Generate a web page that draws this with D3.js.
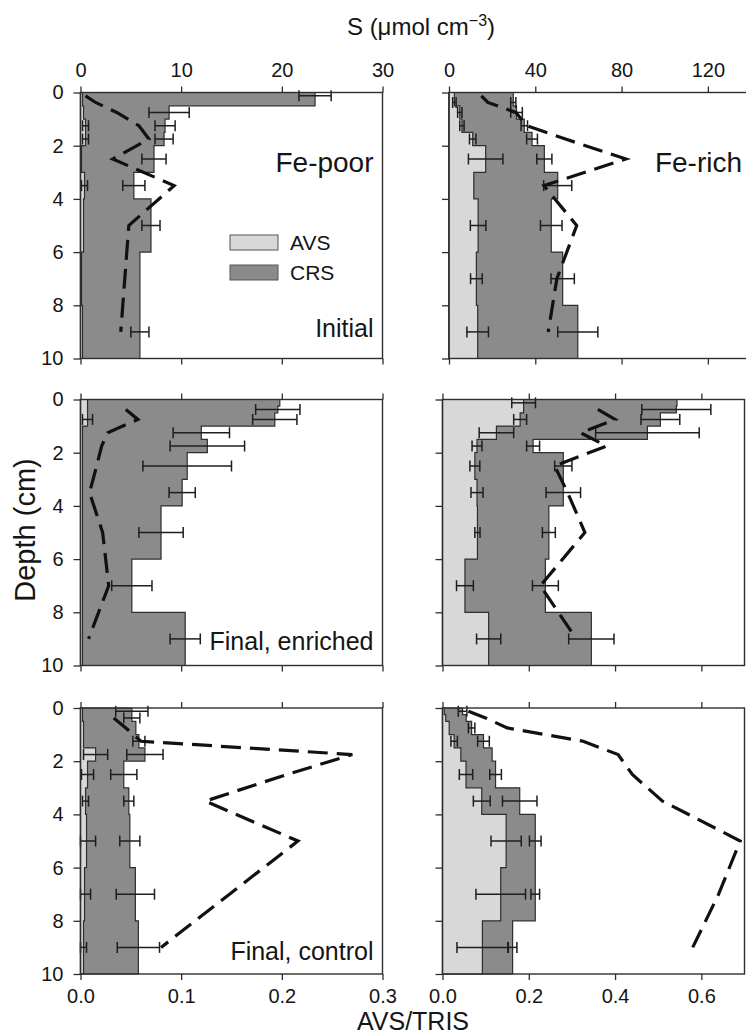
<!DOCTYPE html>
<html>
<head>
<meta charset="utf-8">
<script src="https://cdn.jsdelivr.net/npm/d3@7"></script>
<style>
  body { margin: 0; background: #fff; }
  svg { display: block; font-family: "Liberation Sans", Arial, sans-serif; }
</style>
</head>
<body>
<div id="chart"></div>
<script>
// depth layers (cm): top of each layer, the last one ends at DEPTH_MAX
const DEPTH_TOPS = [0, 0.25, 0.5, 1, 1.5, 2, 3, 4, 6, 8]
const DEPTH_MAX = 10
const DEPTH_TICKS = [0, 2, 4, 6, 8, 10]
const S_TICKS_POOR = [0, 10, 20, 30]
const S_TICKS_RICH = [0, 40, 80, 120]
const RATIO_TICKS_POOR = [0, 0.1, 0.2, 0.3]
const RATIO_TICKS_RICH = [0, 0.2, 0.4, 0.6]

// Fe-poor, initial (S in umol cm-3)
const poorInitialAvs = [0.2, 0.2, 0.3, 0.5, 0.5, 0.1, 0.4, 0.3, 0.1, 0.2]
const poorInitialTris = [23.3, 23.3, 8.8, 8.4, 8.3, 7.3, 5.3, 7.0, 5.9, 5.9]
const poorInitialAvsErr = [null, null, null, 0.3, 0.3, null, 0.3, null, null, null]
const poorInitialTrisErr = [1.6, null, 2.0, 1.0, 0.9, 1.2, 1.1, 0.9, null, 0.9]
const poorInitialRatio = [0.005, 0.015, 0.036, 0.058, 0.068, 0.032, 0.093, 0.048, 0.044, 0.040]

// Fe-rich, initial
const richInitialAvs = [2.5, 2.5, 5.0, 6.0, 11.0, 17.0, 11.5, 13.5, 12.7, 13.3]
const richInitialTris = [29.8, 29.8, 31.3, 34.9, 38.5, 44.2, 50.4, 47.4, 52.7, 59.7]
const richInitialAvsErr = [null, 0.8, 1.0, 1.0, 1.5, 8.0, null, 3.6, 2.7, 5.0]
const richInitialTrisErr = [null, 1.2, 2.7, 1.5, 2.5, 3.5, 6.5, 5.0, 5.4, 9.3]
const richInitialRatio = [0.075, 0.09, 0.155, 0.18, 0.27, 0.41, 0.22, 0.296, 0.25, 0.23]

// Fe-poor, final, enriched
const poorEnrichedAvs = [0.7, 0.7, 0.7, 0.2, 0.2, 0.2, 0.2, 0.2, 0.2, 0.2]
const poorEnrichedTris = [19.8, 19.6, 19.3, 12.0, 12.6, 10.6, 10.1, 8.0, 5.1, 10.4]
const poorEnrichedAvsErr = [null, null, 0.5, null, null, null, null, null, null, null]
const poorEnrichedTrisErr = [null, 2.2, 2.2, 2.8, 3.7, 4.4, 1.3, 2.2, 2.0, 1.5]
const poorEnrichedRatio = [null, 0.045, 0.057, 0.027, 0.021, 0.016, 0.009, 0.022, 0.028, 0.008]

// Fe-rich, final, enriched
const richEnrichedAvs = [37.6, 37.6, 36.0, 25.0, 16.0, 15.0, 16.0, 16.2, 10.4, 21.4]
const richEnrichedTris = [108.7, 108.4, 101.0, 95.0, 42.0, 56.0, 56.0, 49.3, 47.7, 69.0]
const richEnrichedAvsErr = [5.5, null, 3.0, 8.0, 2.3, 2.3, 2.8, 1.2, 3.9, 5.6]
const richEnrichedTrisErr = [null, 16.0, 9.0, 24.0, 3.0, 4.0, 8.0, 3.0, 6.0, 10.5]
const richEnrichedRatio = [null, 0.36, 0.40, 0.32, 0.38, 0.26, 0.29, 0.33, 0.227, 0.31]

// Fe-poor, final, control
const poorControlAvs = [0.2, 0.2, 0.3, 0.3, 1.5, 0.7, 0.5, 0.6, 0.4, 0.3]
const poorControlTris = [5.1, 5.1, 5.5, 5.8, 6.4, 4.3, 4.8, 4.9, 5.45, 5.75]
const poorControlAvsErr = [null, null, null, null, 1.2, 0.6, 0.3, 0.9, 0.6, 0.3]
const poorControlTrisErr = [1.6, 0.8, null, 0.6, 1.8, 1.3, 0.5, 1.0, 1.9, 2.1]
const poorControlRatio = [null, 0.033, 0.045, 0.060, 0.27, 0.205, 0.124, 0.216, 0.148, 0.08]

// Fe-rich, final, control
const richControlAvs = [0.8, 1.5, 3.1, 5.4, 8.5, 10.9, 18.2, 29.5, 27.0, 18.5]
const richControlTris = [9.3, 11.0, 13.5, 19.0, 23.0, 24.6, 35.8, 43.0, 43.0, 32.5]
const richControlAvsErr = [null, null, null, 1.5, null, 3.1, 3.9, 7.0, 11.5, 11.8]
const richControlTrisErr = [2.0, null, 1.5, 2.7, null, 2.7, 8.0, 2.7, 2.0, 2.0]
const richControlRatio = [0.06, 0.10, 0.15, 0.326, 0.407, 0.44, 0.51, 0.69, 0.64, 0.58]

const panels = [
  { row: 0, site: 'poor', name: 'Fe-poor', stage: 'Initial', avs: poorInitialAvs, tris: poorInitialTris, avsErr: poorInitialAvsErr, trisErr: poorInitialTrisErr, ratio: poorInitialRatio },
  { row: 0, site: 'rich', name: 'Fe-rich', stage: null, avs: richInitialAvs, tris: richInitialTris, avsErr: richInitialAvsErr, trisErr: richInitialTrisErr, ratio: richInitialRatio },
  { row: 1, site: 'poor', name: null, stage: 'Final, enriched', avs: poorEnrichedAvs, tris: poorEnrichedTris, avsErr: poorEnrichedAvsErr, trisErr: poorEnrichedTrisErr, ratio: poorEnrichedRatio },
  { row: 1, site: 'rich', name: null, stage: null, avs: richEnrichedAvs, tris: richEnrichedTris, avsErr: richEnrichedAvsErr, trisErr: richEnrichedTrisErr, ratio: richEnrichedRatio },
  { row: 2, site: 'poor', name: null, stage: 'Final, control', avs: poorControlAvs, tris: poorControlTris, avsErr: poorControlAvsErr, trisErr: poorControlTrisErr, ratio: poorControlRatio },
  { row: 2, site: 'rich', name: null, stage: null, avs: richControlAvs, tris: richControlTris, avsErr: richControlAvsErr, trisErr: richControlTrisErr, ratio: richControlRatio }
]

const WIDTH = 746
const HEIGHT = 1036
const PANEL_W = 302
const PANEL_H = 266
const ROW_TOP = [92.5, 399.5, 708]
const STAGE_Y = [244.5, 250.5, 252]
const AXIS_COLOR = '#2e2e2e'
const TEXT_COLOR = '#151515'

const svg = d3.select('#chart')
  .append('svg')
  .attr('width', WIDTH)
  .attr('height', HEIGHT)

const layerMid = i => (DEPTH_TOPS[i] + (i + 1 < DEPTH_TOPS.length ? DEPTH_TOPS[i + 1] : DEPTH_MAX)) / 2

panels.forEach(p => {
  // the top right panel sits a little to the right in the original figure
  const left = p.site === 'poor' ? 80.5 : (p.row === 0 ? 449 : 442.5)
  const g = svg.append('g').attr('transform', `translate(${left},${ROW_TOP[p.row]})`)

  const x = d3.scaleLinear().domain([0, p.site === 'poor' ? 30 : 140]).range([0, PANEL_W])
  const xr = d3.scaleLinear().domain([0, p.site === 'poor' ? 0.3 : 0.7]).range([0, PANEL_W])
  const y = d3.scaleLinear().domain([0, DEPTH_MAX]).range([0, PANEL_H])

  const profile = values => DEPTH_TOPS.map((d, i) => ({ d, v: values[i] }))
    .concat([{ d: DEPTH_MAX, v: values[values.length - 1] }])
  const area = d3.area()
    .curve(d3.curveStepBefore)
    .y(d => y(d.d))
    .x0(x(0))
    .x1(d => x(d.v))

  g.append('path')
    .attr('d', area(profile(p.tris)))
    .attr('fill', '#8b8b8b')
    .attr('stroke', AXIS_COLOR)
    .attr('stroke-width', 1.2)
  g.append('path')
    .attr('d', area(profile(p.avs)))
    .attr('fill', '#d8d8d8')
    .attr('stroke', AXIS_COLOR)
    .attr('stroke-width', 1.2)

  // error bars for AVS and for the total
  const bars = []
  p.avs.forEach((v, i) => { if (p.avsErr[i] != null) bars.push({ v, e: p.avsErr[i], d: layerMid(i) }) })
  p.tris.forEach((v, i) => { if (p.trisErr[i] != null) bars.push({ v, e: p.trisErr[i], d: layerMid(i) }) })
  const bar = g.selectAll('.err')
    .data(bars)
    .enter()
    .append('g')
    .attr('class', 'err')
    .attr('stroke', '#1e1e1e')
    .attr('stroke-width', 1.5)
  bar.append('line')
    .attr('x1', d => x(Math.max(0, d.v - d.e)))
    .attr('x2', d => x(d.v + d.e))
    .attr('y1', d => y(d.d))
    .attr('y2', d => y(d.d))
  bar.append('line')
    .attr('x1', d => x(Math.max(0, d.v - d.e)))
    .attr('x2', d => x(Math.max(0, d.v - d.e)))
    .attr('y1', d => y(d.d) - 5.5)
    .attr('y2', d => y(d.d) + 5.5)
  bar.append('line')
    .attr('x1', d => x(d.v + d.e))
    .attr('x2', d => x(d.v + d.e))
    .attr('y1', d => y(d.d) - 5.5)
    .attr('y2', d => y(d.d) + 5.5)

  // AVS/TRIS ratio, dashed
  const ratioPts = p.ratio.map((r, i) => ({ r, d: layerMid(i) })).filter(d => d.r != null)
  g.append('path')
    .attr('d', d3.line().x(d => xr(d.r)).y(d => y(d.d))(ratioPts))
    .attr('fill', 'none')
    .attr('stroke', '#111')
    .attr('stroke-width', 3.2)
    .attr('stroke-dasharray', '20,9')

  // axes
  const blank = () => ''
  const top = g.append('g')
    .call(d3.axisTop(x)
      .tickValues(p.site === 'poor' ? S_TICKS_POOR : S_TICKS_RICH)
      .tickSize(6).tickPadding(10)
      .tickFormat(p.row === 0 ? d3.format('d') : blank))
  const bottom = g.append('g')
    .attr('transform', `translate(0,${PANEL_H})`)
    .call(d3.axisBottom(xr)
      .tickValues(p.site === 'poor' ? RATIO_TICKS_POOR : RATIO_TICKS_RICH)
      .tickSize(6).tickPadding(9)
      .tickFormat(p.row === 2 ? d3.format('.1f') : blank))
  const leftAxis = g.append('g')
    .call(d3.axisLeft(y)
      .tickValues(DEPTH_TICKS)
      .tickSize(7).tickPadding(10)
      .tickFormat(p.site === 'poor' ? d3.format('d') : blank))
  ;[top, bottom, leftAxis].forEach(a => {
    a.select('.domain').remove()
    a.selectAll('line').attr('stroke', AXIS_COLOR).attr('stroke-width', 1.3)
    a.selectAll('text').attr('font-size', 20).attr('fill', TEXT_COLOR).attr('font-family', null)
  })

  g.append('rect')
    .attr('width', PANEL_W)
    .attr('height', PANEL_H)
    .attr('fill', 'none')
    .attr('stroke', AXIS_COLOR)
    .attr('stroke-width', 1.4)

  if (p.name) {
    g.append('text')
      .attr('x', PANEL_W - 9)
      .attr('y', 79.5)
      .attr('text-anchor', 'end')
      .attr('font-size', 28)
      .attr('fill', TEXT_COLOR)
      .text(p.name)
  }
  if (p.stage) {
    g.append('text')
      .attr('x', PANEL_W - 9)
      .attr('y', STAGE_Y[p.row])
      .attr('text-anchor', 'end')
      .attr('font-size', 25)
      .attr('fill', TEXT_COLOR)
      .text(p.stage)
  }

  // legend in the first panel
  if (p.row === 0 && p.site === 'poor') {
    const legend = g.selectAll('.legend')
      .data([{ label: 'AVS', fill: '#d8d8d8' }, { label: 'CRS', fill: '#8b8b8b' }])
      .enter()
      .append('g')
      .attr('class', 'legend')
      .attr('transform', (d, i) => `translate(149.5,${142.5 + i * 30})`)
    legend.append('rect')
      .attr('width', 48)
      .attr('height', 15)
      .attr('fill', d => d.fill)
      .attr('stroke', '#555')
      .attr('stroke-width', 1)
    legend.append('text')
      .attr('x', 60)
      .attr('y', 15)
      .attr('font-size', 21)
      .attr('fill', TEXT_COLOR)
      .text(d => d.label)
  }
})

// axis titles
const sTitle = svg.append('text')
  .attr('x', 421)
  .attr('y', 35)
  .attr('text-anchor', 'middle')
  .attr('font-size', 24)
  .attr('fill', TEXT_COLOR)
sTitle.append('tspan').text('S (\u03bcmol cm')
sTitle.append('tspan').attr('dy', -9).attr('font-size', 16).text('\u22123')
sTitle.append('tspan').attr('dy', 9).text(')')

svg.append('text')
  .attr('x', 413)
  .attr('y', 1030)
  .attr('text-anchor', 'middle')
  .attr('font-size', 25)
  .attr('fill', TEXT_COLOR)
  .text('AVS/TRIS')

svg.append('text')
  .attr('transform', 'translate(35,530) rotate(-90)')
  .attr('text-anchor', 'middle')
  .attr('font-size', 29)
  .attr('fill', TEXT_COLOR)
  .text('Depth (cm)')
</script>
</body>
</html>
